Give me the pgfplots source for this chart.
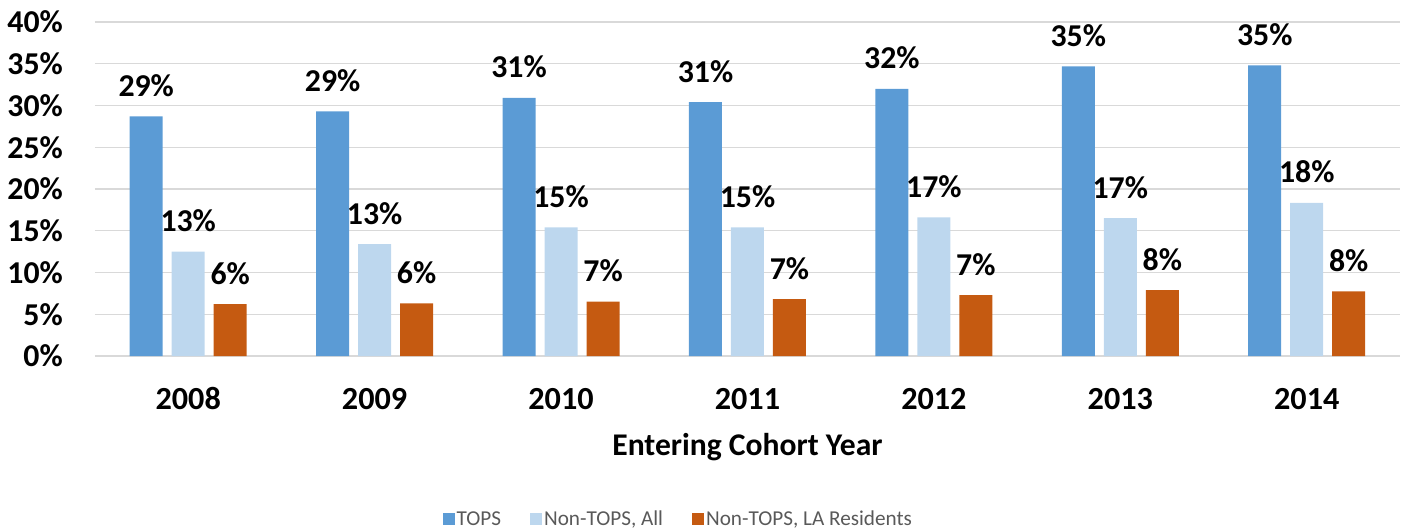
\documentclass[border=0pt]{standalone}
\usepackage{fontspec}
\setmainfont{Carlito}
\usepackage{pgfplots}
\pgfplotsset{compat=1.18}
\definecolor{topsblue}{HTML}{5B9BD5}
\definecolor{allblue}{HTML}{BDD7EE}
\definecolor{laorange}{HTML}{C55A11}
\definecolor{gridgray}{HTML}{D9D9D9}
\definecolor{leggray}{HTML}{595959}
\pgfplotsset{sqleg/.style={legend image code/.code={\fill[##1] (-4bp,-6bp) rectangle (8bp,6bp);}}}
\begin{document}
\begin{tikzpicture}
\begin{axis}[
  scale only axis,
  width=1305bp, height=334bp,
  xmin=-0.5, xmax=6.5, ymin=0, ymax=40,
  ybar=9bp, bar width=33bp,
  xtick={0,1,2,3,4,5,6},
  xticklabels={2008,2009,2010,2011,2012,2013,2014},
  ytick={0,5,10,15,20,25,30,35,40},
  yticklabel={\pgfmathprintnumber{\tick}\%},
  /pgf/number format/assume math mode=true,
  /pgf/number format/.cd, fixed, precision=0, /pgfplots/.cd,
  axis x line=bottom, axis y line=left,
  x axis line style={-, draw=gridgray, line width=1.3bp},
  y axis line style={draw=none},
  major tick length=0pt,
  ymajorgrids, grid style={draw=gridgray, line width=1.3bp},
  yticklabel style={font=\bfseries\fontsize{31.8bp}{36bp}\selectfont, anchor=east, inner xsep=0pt, xshift=-32bp},
  xticklabel style={font=\bfseries\fontsize{32.2bp}{40bp}\selectfont, anchor=base, inner sep=0pt, yshift=-53bp},
  xlabel={Entering Cohort Year},
  xlabel style={at={(axis description cs:0.5,0)}, anchor=base, inner sep=0pt, yshift=-99bp, font=\bfseries\fontsize{31.6bp}{34bp}\selectfont},
  point meta=explicit symbolic,
  nodes near coords={\pgfplotspointmeta\%},
  every node near coord/.append style={font=\bfseries\fontsize{31.8bp}{36bp}\selectfont, text=black, anchor=base, inner sep=0pt, yshift=20bp},
  clip=false,
  legend columns=3,
  legend style={at={(axis description cs:0.447,-0.488)}, anchor=center, draw=none, fill=none,
    font=\fontsize{21.2bp}{24bp}\selectfont, text=leggray,
    nodes={inner xsep=2bp},
    /tikz/every even column/.append style={column sep=27bp}},
]
\addplot[fill=topsblue, draw=none, sqleg] coordinates {
 (0,28.7) [29] (1,29.3) [29] (2,30.9) [31] (3,30.4) [31] (4,32.0) [32] (5,34.7) [35] (6,34.8) [35]};
\addplot[fill=allblue, draw=none, sqleg] coordinates {
 (0,12.5) [13] (1,13.4) [13] (2,15.4) [15] (3,15.4) [15] (4,16.6) [17] (5,16.5) [17] (6,18.35) [18]};
\addplot[fill=laorange, draw=none, sqleg] coordinates {
 (0,6.2) [6] (1,6.3) [6] (2,6.5) [7] (3,6.8) [7] (4,7.3) [7] (5,7.9) [8] (6,7.75) [8]};
\legend{TOPS, {Non-TOPS, All}, {Non-TOPS, LA Residents}}
\coordinate (O) at (rel axis cs:0,0);
\end{axis}
\pgfresetboundingbox
\useasboundingbox (O) ++(-95bp,-175bp) rectangle ++(1401bp,531bp);
\end{tikzpicture}
\end{document}
